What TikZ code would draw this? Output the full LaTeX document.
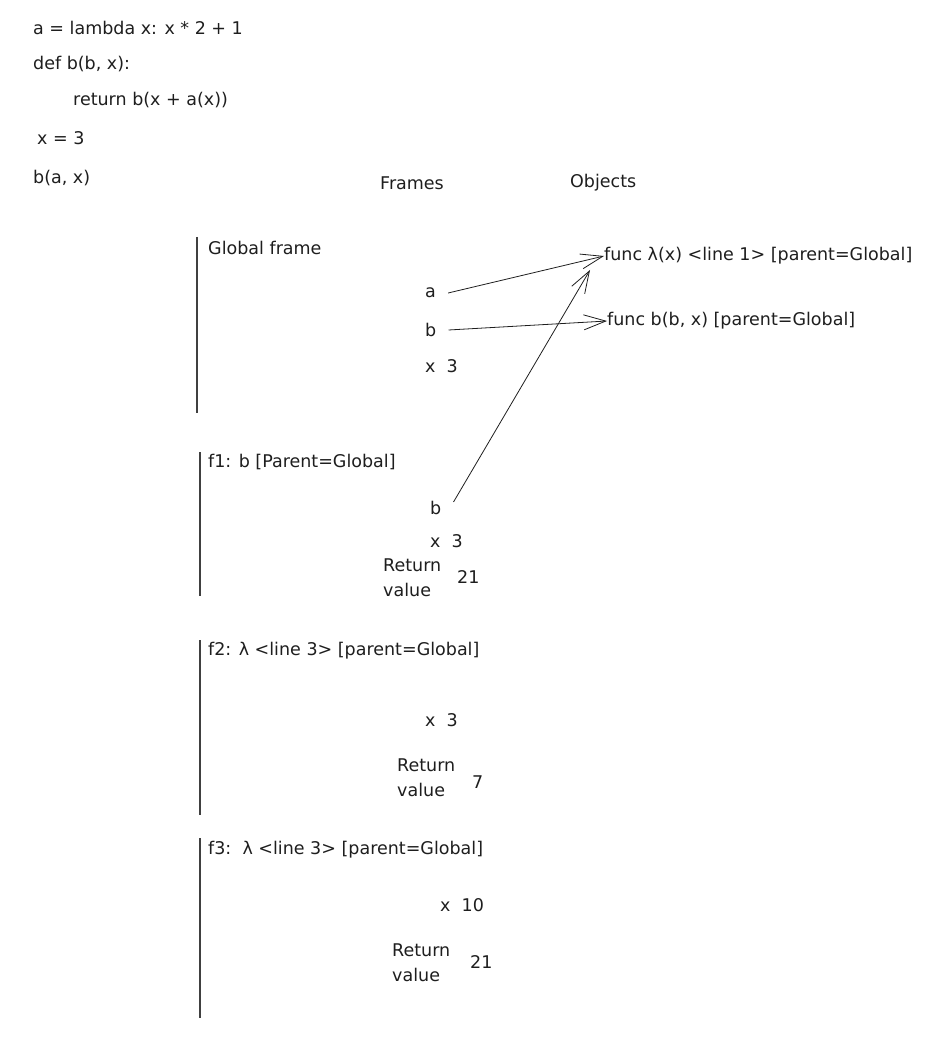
\documentclass[tikz,border=0pt]{standalone}
\usepackage{fontspec}
\setmainfont{DejaVu Sans}
\usetikzlibrary{arrows.meta}
\definecolor{ink}{HTML}{1E1E1E}
\tikzset{
  txt/.style={anchor=west, inner sep=0pt, text=ink},
  retval/.style={txt, align=left, font=\fontsize{17.5}{25}\selectfont},
  frameline/.style={draw=ink!85, line width=1.1pt},
  ref/.style={draw=ink, line width=0.8pt, -{Straight Barb[length=22pt,width=15pt]}},
}
\begin{document}
\begin{tikzpicture}[x=1pt, y=-1pt, font=\fontsize{17.5}{21}\selectfont]
  \useasboundingbox (0,0) rectangle (947,1040);
  % source code
  \node[txt] (codeA) at (33,28) {a = lambda x: x * 2 + 1};
  \node[txt] (codeB) at (33,64) {def b(b, x):};
  \node[txt] (codeR) at (73,100) {return b(x + a(x))};
  \node[txt] (codeX) at (37,138) {x = 3};
  \node[txt] (codeC) at (33,178) {b(a, x)};

  % column headers
  \node[txt] (frames) at (380,183) {Frames};
  \node[txt] (objects) at (570,183) {Objects};

  % global frame
  \draw[frameline] (197,237) -- (197,413);
  \node[txt] (globalT) at (208,248) {Global frame};
  \node[txt] (ga) at (425,293) {a};
  \node[txt] (gb) at (425,330) {b};
  \node[txt] (gx) at (425,366) {x\ \ 3};

  % objects
  \node[txt] (funcL) at (604,256) {func λ(x) <line 1> [parent=Global]};
  \node[txt] (funcB) at (607,321) {func b(b, x) [parent=Global]};

  % f1
  \draw[frameline] (200,452) -- (200,596);
  \node[txt] (f1T) at (208,462) {f1: b [Parent=Global]};
  \node[txt] (f1b) at (430,508) {b};
  \node[txt] (f1x) at (430,541) {x\ \ 3};
  \node[retval] (f1r) at (383,578) {Return\\value};
  \node[txt] (f1v) at (457,577) {21};

  % f2
  \draw[frameline] (200,640) -- (200,815);
  \node[txt] (f2T) at (208,651) {f2: λ <line 3> [parent=Global]};
  \node[txt] (f2x) at (425,720) {x\ \ 3};
  \node[retval] (f2r) at (397,778) {Return\\value};
  \node[txt] (f2v) at (472,782) {7};

  % f3
  \draw[frameline] (200,838) -- (200,1018);
  \node[txt] (f3T) at (208,850) {f3:\ \ λ <line 3> [parent=Global]};
  \node[txt] (f3x) at (440,905) {x\ \ 10};
  \node[retval] (f3r) at (392,963) {Return\\value};
  \node[txt] (f3v) at (470,962) {21};

  % references
  \draw[ref] ([xshift=12pt]ga.east) -- (funcL.west);
  \draw[ref] ([xshift=12pt]gb.east) -- (funcB.west);
  \draw[ref] ([shift={(12,-6)}]f1b.east) -- ([shift={(-14,14)}]funcL.west);
\end{tikzpicture}
\end{document}
